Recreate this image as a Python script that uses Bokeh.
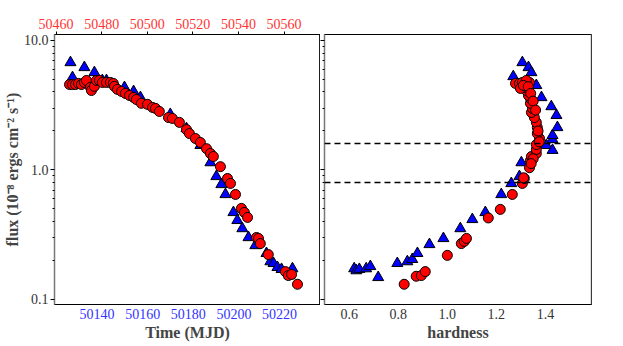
from bokeh.plotting import figure
from bokeh.models import Range1d, LinearAxis, FixedTicker, CustomJSTickFormatter, Span
from bokeh.layouts import row
from bokeh.embed import file_html
from bokeh.resources import INLINE

# ---------------- data ----------------
circle_time = [50127.9, 50129.2, 50130.5, 50131.8, 50133.1, 50134.4, 50135.3, 50137.1, 50137.5, 50138.8,
               50139.7, 50141.0, 50142.3, 50144.1, 50145.8, 50147.1, 50147.6, 50148.9, 50150.7, 50152.4,
               50154.2, 50156.0, 50157.2, 50159.4, 50162.1, 50164.3, 50165.6, 50167.3, 50171.3, 50173.0,
               50176.1, 50179.2, 50180.5, 50183.1, 50185.3, 50188.0, 50189.7, 50191.0, 50194.1, 50197.2,
               50198.5, 50200.7, 50203.3, 50204.6, 50206.0, 50209.9, 50210.8, 50211.6, 50215.1, 50222.6,
               50223.9, 50225.3, 50227.9]
circle_flux = [4.57, 4.57, 4.57, 4.66, 4.57, 4.74, 4.91, 4.34, 4.11, 4.42,
               4.91, 4.91, 4.74, 4.74, 4.74, 4.66, 4.42, 4.19, 4.04, 3.90,
               3.76, 3.63, 3.50, 3.27, 3.21, 3.04, 2.99, 2.83, 2.54, 2.50,
               2.33, 2.05, 1.91, 1.75, 1.63, 1.46, 1.34, 1.27, 1.06, 0.859,
               0.787, 0.647, 0.505, 0.470, 0.430, 0.301, 0.296, 0.270, 0.222, 0.164,
               0.153, 0.156, 0.131]

tri_time = [50128.3, 50129.2, 50134.4, 50138.8, 50142.3, 50144.1, 50152.0, 50156.0, 50159.0, 50172.1,
            50179.2, 50185.3, 50189.7, 50192.3, 50194.5, 50196.3, 50199.8, 50201.5, 50203.7, 50206.4,
            50209.4, 50214.3, 50216.0, 50217.4, 50219.1, 50220.9, 50224.4, 50225.7]
tri_flux = [6.76, 5.18, 6.19, 5.66, 4.91, 4.91, 4.34, 4.04, 3.63, 2.69,
            2.09, 1.55, 1.14, 0.891, 0.773, 0.647, 0.470, 0.408, 0.353, 0.301,
            0.261, 0.227, 0.196, 0.190, 0.177, 0.171, 0.153, 0.173]

circle_hard = [0.824, 0.873, 0.894, 0.910, 1.000, 1.057, 1.069, 1.078, 1.167, 1.216,
               1.265, 1.306, 1.314, 1.335, 1.339, 1.343, 1.363, 1.363, 1.363, 1.376,
               1.367, 1.367, 1.363, 1.355, 1.343, 1.347, 1.339, 1.339, 1.331, 1.322,
               1.314, 1.278, 1.294, 1.306, 1.322, 1.335, 1.322, 1.298,
               1.310, 1.330, 1.340, 1.350, 1.360, 1.370, 1.375, 1.350, 1.311, 1.342]
circle_hflux = [0.131, 0.151, 0.153, 0.164, 0.219, 0.270, 0.281, 0.296, 0.426, 0.496,
                0.647, 0.787, 0.859, 1.04, 1.18, 1.27, 1.34, 1.44, 1.57, 1.75,
                1.91, 2.13, 2.33, 2.54, 2.78, 2.99, 3.27, 3.57, 3.76, 4.11,
                4.34, 4.66, 4.66, 4.74, 4.66, 4.74, 4.91, 4.26,
                4.50, 4.40, 3.90, 3.40, 2.90, 2.00, 1.65, 1.22, 0.87, 1.12]

tri_hard = [0.620, 0.629, 0.641, 0.669, 0.686, 0.718, 0.796, 0.837, 0.857, 0.878,
            0.927, 0.984, 1.053, 1.102, 1.155, 1.220, 1.261, 1.294, 1.302, 1.404,
            1.429, 1.429, 1.429, 1.449, 1.445, 1.424, 1.384, 1.363, 1.269, 1.306,
            1.331, 1.343]
tri_hflux = [0.173, 0.167, 0.171, 0.173, 0.180, 0.148, 0.190, 0.196, 0.204, 0.227,
             0.266, 0.296, 0.353, 0.415, 0.470, 0.647, 0.787, 0.891, 1.14, 1.55,
             1.42, 1.72, 1.85, 2.13, 2.64, 3.09, 3.63, 4.50, 5.27, 6.76,
             6.19, 5.66]

time_ticks = [50140, 50160, 50180, 50200, 50220]
top_ticks = [50460, 50480, 50500, 50520, 50540, 50560]
hard_ticks = [0.6, 0.8, 1.0, 1.2, 1.4]
flux_ticks = [0.1, 1.0, 10.0]
flux_minor = [0.2, 0.3, 0.4, 0.5, 0.6, 0.7, 0.8, 0.9, 2, 3, 4, 5, 6, 7, 8, 9]
hline_levels = [1.6, 0.8]

time_range = (50121.3, 50238.0)
top_offset = 338.0
hard_range = (0.499, 1.588)
flux_range = (0.0914, 11.12)

FONT = "Liberation Serif"
GRAY = "#777777"
TICK_FS = "14px"
LABEL_FS = "16px"

# ---------------- left panel ----------------
p1 = figure(frame_width=266, frame_height=270, y_axis_type="log",
            x_range=Range1d(*time_range), y_range=Range1d(*flux_range),
            output_backend="svg", toolbar_location=None,
            min_border_left=50, min_border_right=0, min_border_top=34, min_border_bottom=40)
p1.extra_x_ranges = {"top": Range1d(time_range[0] + top_offset, time_range[1] + top_offset)}
p1.xgrid.visible = False
p1.ygrid.visible = False
p1.outline_line_color = "black"

top_axis = LinearAxis(x_range_name="top", ticker=FixedTicker(ticks=top_ticks))
p1.add_layout(top_axis, "above")
top_axis.major_label_text_color = "#ff3333"
top_axis.major_label_text_font = FONT
top_axis.major_label_text_font_size = TICK_FS
top_axis.major_tick_out = 3
top_axis.major_tick_in = 0
top_axis.minor_tick_out = 0
top_axis.major_label_standoff = 3
top_axis.axis_line_color = "black"

bx = p1.below[0]
bx.ticker = FixedTicker(ticks=time_ticks)
bx.major_label_text_color = "#3333ff"
bx.major_label_text_font = FONT
bx.major_label_text_font_size = TICK_FS
bx.major_tick_out = 0
bx.major_tick_in = 0
bx.minor_tick_out = 0
bx.minor_tick_in = 0
bx.major_label_standoff = 4
bx.axis_label = "Time (MJD)"
bx.axis_label_text_font = FONT
bx.axis_label_text_font_style = "bold"
bx.axis_label_text_font_size = LABEL_FS
bx.axis_label_standoff = 2
bx.axis_line_color = "black"

ly = p1.left[0]
ly.ticker = FixedTicker(ticks=flux_ticks, minor_ticks=flux_minor)
ly.formatter = CustomJSTickFormatter(code="return tick.toFixed(1);")
ly.major_label_text_font = FONT
ly.major_label_text_font_size = TICK_FS
ly.major_label_text_color = "#333333"
ly.major_tick_out = 4
ly.major_tick_in = 0
ly.minor_tick_out = 2
ly.minor_tick_in = 0
ly.major_label_standoff = 2
ly.axis_label = "flux (10⁻⁸ ergs cm⁻² s⁻¹)"
ly.axis_label_text_font = FONT
ly.axis_label_text_font_style = "bold"
ly.axis_label_text_font_size = LABEL_FS
ly.axis_label_standoff = 0
ly.axis_line_color = GRAY
ly.axis_line_width = 1.5

p1.add_layout(Span(location=time_range[1], dimension="height", line_color=GRAY, line_width=1.5))

p1.scatter(tri_time, tri_flux, marker="triangle", size=11, fill_color="#0000ff",
           line_color="black", line_width=1)
p1.scatter(circle_time, circle_flux, marker="circle", size=10, fill_color="#ff0000",
           line_color="black", line_width=1)

# ---------------- right panel ----------------
p2 = figure(frame_width=267, frame_height=270, y_axis_type="log",
            x_range=Range1d(*hard_range), y_range=Range1d(*flux_range),
            output_backend="svg", toolbar_location=None,
            min_border_left=0, min_border_right=10, min_border_top=34, min_border_bottom=40)
p2.xgrid.visible = False
p2.ygrid.visible = False
p2.outline_line_color = "black"

hx = p2.below[0]
hx.ticker = FixedTicker(ticks=hard_ticks)
hx.formatter = CustomJSTickFormatter(code="return tick.toFixed(1);")
hx.major_label_text_font = FONT
hx.major_label_text_font_size = TICK_FS
hx.major_label_text_color = "#333333"
hx.major_tick_out = 0
hx.major_tick_in = 0
hx.minor_tick_out = 0
hx.minor_tick_in = 0
hx.major_label_standoff = 4
hx.axis_label = "hardness"
hx.axis_label_text_font = FONT
hx.axis_label_text_font_style = "bold"
hx.axis_label_text_font_size = LABEL_FS
hx.axis_label_standoff = 2
hx.axis_line_color = "black"

ry = p2.left[0]
ry.ticker = FixedTicker(ticks=flux_ticks, minor_ticks=flux_minor)
ry.formatter = CustomJSTickFormatter(code="return '';")
ry.major_tick_out = 4
ry.major_tick_in = 0
ry.minor_tick_out = 2
ry.minor_tick_in = 0
ry.major_label_standoff = 0
ry.axis_line_color = GRAY
ry.axis_line_width = 1.5

p2.add_layout(Span(location=hard_range[1], dimension="height", line_color=GRAY, line_width=1.5))

for lvl in hline_levels:
    p2.add_layout(Span(location=lvl, dimension="width", line_color="black",
                       line_dash="6 4", line_width=1.5))

p2.scatter(tri_hard, tri_hflux, marker="triangle", size=11, fill_color="#0000ff",
           line_color="black", line_width=1)
p2.scatter(circle_hard, circle_hflux, marker="circle", size=10, fill_color="#ff0000",
           line_color="black", line_width=1)

layout = row(p1, p2)
open("out.html", "w").write(file_html(layout, INLINE))
